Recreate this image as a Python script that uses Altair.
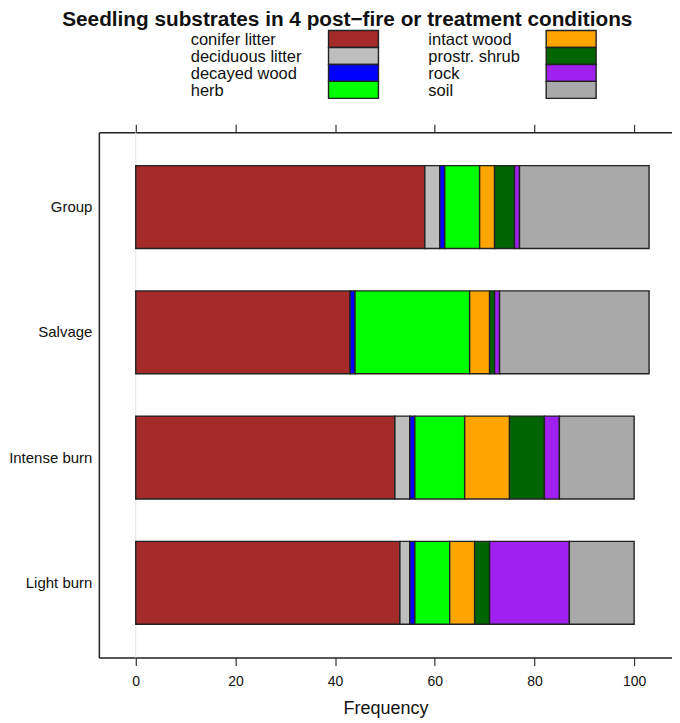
import altair as alt
import pandas as pd

conditions = ["Group", "Salvage", "Intense burn", "Light burn"]
substrates = ["conifer litter", "deciduous litter", "decayed wood", "herb",
              "intact wood", "prostr. shrub", "rock", "soil"]
colors = ["#A52A2A", "#BEBEBE", "#0000FF", "#00FF00",
          "#FFA500", "#006400", "#A020F0", "#A9A9A9"]
group = [58, 3, 1, 7, 3, 4, 1, 26]
salvage = [43, 0, 1, 23, 4, 1, 1, 30]
intense = [52, 3, 1, 10, 9, 7, 3, 15]
light = [53, 2, 1, 7, 5, 3, 16, 13]
x_ticks = [0, 20, 40, 60, 80, 100]
title_text = "Seedling substrates in 4 post\u2212fire or treatment conditions"

FONT = "Liberation Sans"
FRAME = "#222222"

rows = []
for cond, vals in zip(conditions, [group, salvage, intense, light]):
    for i, (s, v) in enumerate(zip(substrates, vals)):
        rows.append({"condition": cond, "substrate": s, "value": v, "order": i})
df = pd.DataFrame(rows)

xscale = alt.Scale(domain=[-7.4, 107.6], nice=False, zero=False)
cscale = alt.Scale(domain=substrates, range=colors)

zero_line = alt.Chart(pd.DataFrame({"z": [0]})).mark_rule(
    color="#e4e4e4", strokeWidth=1
).encode(
    x=alt.X("z:Q", scale=xscale,
            axis=alt.Axis(orient="top", values=x_ticks, labels=False, title=None,
                          domain=True, domainColor=FRAME, domainWidth=1.5,
                          grid=False, tickSize=8, tickWidth=1.2,
                          tickColor="#333333"))
)

bars = alt.Chart(df).transform_filter("datum.value > 0").mark_bar(
    stroke="#222222", strokeWidth=1.4
).encode(
    x=alt.X("value:Q", stack="zero", scale=xscale,
            axis=alt.Axis(orient="bottom", values=x_ticks, title="Frequency",
                          domain=True, domainColor=FRAME, domainWidth=1.5,
                          grid=False, tickSize=8, tickWidth=1.2,
                          tickColor="#333333", labelFont=FONT, labelFontSize=14,
                          labelColor="#111111", labelPadding=9,
                          titleFont=FONT, titleFontSize=18, titleFontWeight="normal",
                          titleColor="#111111", titlePadding=11)),
    y=alt.Y("condition:N", sort=conditions,
            scale=alt.Scale(paddingInner=0.338, paddingOuter=0.266),
            axis=alt.Axis(title=None, ticks=False, domain=True, domainColor=FRAME,
                          domainWidth=1.5, labelFont=FONT,
                          labelFontSize=15, labelColor="#111111", labelPadding=7)),
    color=alt.Color("substrate:N", scale=cscale, legend=None),
    order=alt.Order("order:Q"),
)

main = alt.layer(zero_line, bars).resolve_axis(x="independent").properties(
    width=574, height=526,
    view=alt.ViewBackground(strokeOpacity=0),
)

leg_df = pd.DataFrame({
    "label": substrates,
    "col": [0, 0, 0, 0, 1, 1, 1, 1],
    "row": [0, 1, 2, 3, 0, 1, 2, 3],
})

leg_y = alt.Y("row:O", scale=alt.Scale(paddingInner=0, paddingOuter=0), axis=None)

leg_text = alt.Chart(leg_df).mark_text(
    align="left", baseline="middle", font=FONT, fontSize=16.5, color="#111111", dy=1
).encode(
    x=alt.X("col:Q", scale=alt.Scale(domain=[0, 1], range=[92, 330]), axis=None),
    y=leg_y,
    text="label:N",
)

rect_path = "M-1,-0.34H1V0.34H-1Z"
leg_rect = alt.Chart(leg_df).mark_point(
    shape=rect_path, size=2500, filled=True, opacity=1,
    stroke="#222222", strokeWidth=1.4
).encode(
    x=alt.X("col:Q", scale=alt.Scale(domain=[0, 1], range=[255, 473]), axis=None),
    y=leg_y,
    fill=alt.Color("label:N", scale=cscale, legend=None),
)

legend = alt.layer(leg_text, leg_rect).resolve_scale(x="independent").properties(
    width=574, height=68,
    view=alt.ViewBackground(strokeOpacity=0),
)

chart = alt.vconcat(legend, main, spacing=22).properties(
    padding=0,
    title=alt.Title(title_text, font=FONT, fontSize=20.8, fontWeight="bold",
                    anchor="middle", color="#111111", offset=-3, dx=7)
)

chart.save("out.html", embed_options={"renderer": "svg", "actions": False})
